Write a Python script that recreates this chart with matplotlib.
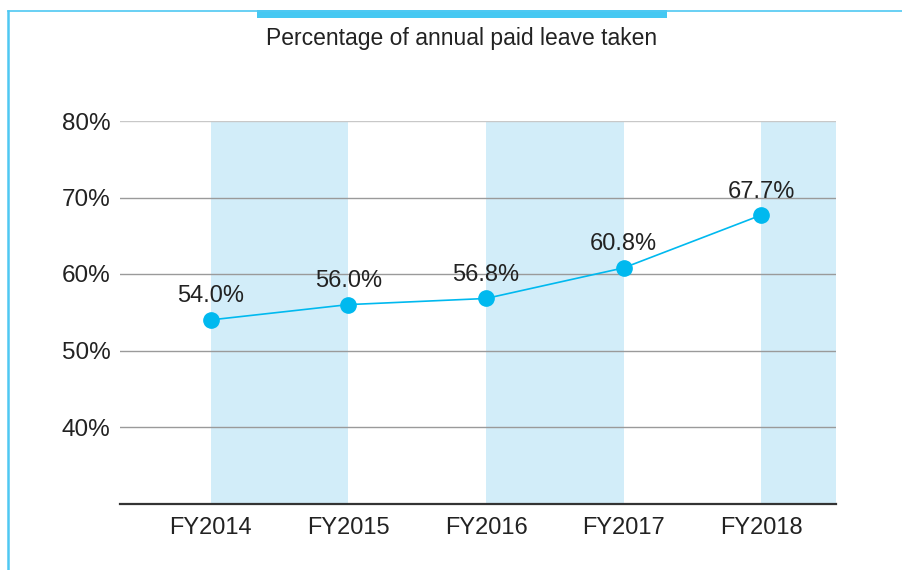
import matplotlib.pyplot as plt
from matplotlib.lines import Line2D
from matplotlib.patches import Rectangle

plt.rcParams['font.family'] = ['Liberation Sans', 'DejaVu Sans']

# Data
years = ["FY2014", "FY2015", "FY2016", "FY2017", "FY2018"]
leave_pct = [54.0, 56.0, 56.8, 60.8, 67.7]
yticks = [40, 50, 60, 70, 80]

blue = '#00b9ef'
band = '#d2edf9'

fig = plt.figure(figsize=(9.02, 5.70), dpi=100)
ax = fig.add_axes([120 / 902, 1 - 503.5 / 570, 715.5 / 902, 382.5 / 570])

x = list(range(len(years)))
ax.set_xlim(-0.66, 4.54)
ax.set_ylim(30, 80)

# shaded columns between alternate years
for i in range(0, len(years), 2):
    ax.axvspan(x[i], x[i] + 1, color=band, zorder=0, lw=0)

for v in yticks:
    c = '#c8c8c8' if v == 80 else '#9a9a9a'
    ax.axhline(v, color=c, lw=1.0, zorder=1)

ax.plot(x, leave_pct, color=blue, lw=1.2, marker='o', markersize=11, zorder=3)
for xi, v in zip(x, leave_pct):
    ax.annotate(f"{v:.1f}%", (xi, v), xytext=(0, 9), textcoords='offset points',
                ha='center', va='bottom', fontsize=17, color='#222222')

ax.set_xticks(x)
ax.set_xticklabels(years, fontsize=17, color='#222222')
ax.set_yticks(yticks)
ax.set_yticklabels([f"{v}%" for v in yticks], fontsize=17.5, color='#222222')
ax.tick_params(axis='x', length=0, pad=10)
ax.tick_params(axis='y', length=0, pad=7)
for s in ['top', 'right', 'left']:
    ax.spines[s].set_visible(False)
ax.spines['bottom'].set_color('#333333')
ax.spines['bottom'].set_linewidth(1.6)
ax.spines['bottom'].set_zorder(4)

# frame lines and title bar
fig.add_artist(Line2D([8 / 902, 8 / 902], [0, 1 - 11 / 570], color='#4fc8f2', lw=1.8))
fig.add_artist(Line2D([8 / 902, 1], [1 - 11 / 570, 1 - 11 / 570], color='#4fc8f2', lw=1.2))
fig.add_artist(Rectangle((257 / 902, 1 - 18 / 570), 410 / 902, 8 / 570,
                         transform=fig.transFigure, color='#45c8f2', lw=0))
fig.text(462 / 902, 1 - 39 / 570, "Percentage of annual paid leave taken",
         ha='center', va='center', fontsize=16.5, color='#222222')

fig.savefig('out.png', dpi=100)
